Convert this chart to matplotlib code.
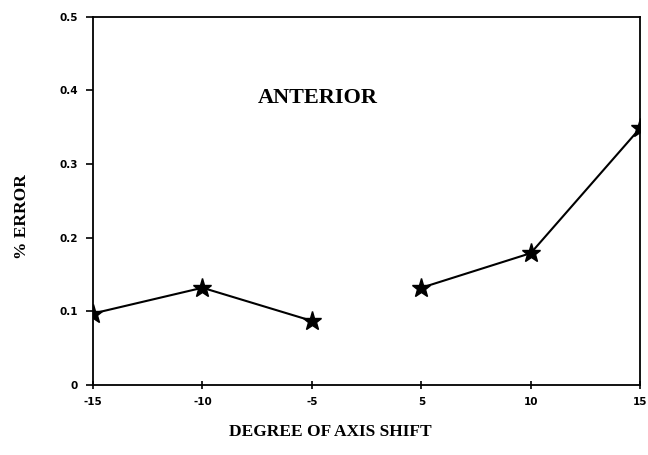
import matplotlib
matplotlib.use("Agg")
from matplotlib import pyplot as plt
import numpy as np

# data
shift_labels = ["-15", "-10", "-5", "5", "10", "15"]
left_err = [0.097, 0.132, 0.087]     # -15, -10, -5
right_err = [0.132, 0.179, 0.349]    # 5, 10, 15
y_ticks = [0, 0.1, 0.2, 0.3, 0.4, 0.5]
y_labels = ["0", "0.1", "0.2", "0.3", "0.4", "0.5"]

fig = plt.figure(figsize=(6.48, 4.55), dpi=100)
ax = fig.add_axes([0.1435, 0.154, 0.8445, 0.809])

pos = np.arange(len(shift_labels))
ax.plot(pos[:3], left_err, color="black", lw=1.5, marker="*", ms=14, mfc="black", mec="black")
ax.plot(pos[3:], right_err, color="black", lw=1.5, marker="*", ms=14, mfc="black", mec="black")

ax.set_xlim(0, 5)
ax.set_ylim(0, 0.5)
ax.set_xticks(pos)
ax.set_xticklabels(shift_labels)
ax.set_yticks(y_ticks)
ax.set_yticklabels(y_labels)
for s in ax.spines.values():
    s.set_linewidth(1.3)
ax.tick_params(axis="y", direction="out", length=5, width=1.2, labelsize=7.5, pad=6)
ax.tick_params(axis="x", direction="inout", length=6, width=1.2, labelsize=7.5, pad=6)
for t in ax.get_xticklabels() + ax.get_yticklabels():
    t.set_fontweight("bold")

serif = "Liberation Serif"
ax.text(0.41, 0.78, "ANTERIOR", transform=ax.transAxes, ha="center", va="center",
        family=serif, fontweight="bold", fontsize=16)
fig.text(0.034, 0.525, "% ERROR", rotation=90, ha="center", va="center",
         family=serif, fontweight="bold", fontsize=12.5)
fig.text(0.51, 0.05, "DEGREE OF AXIS SHIFT", ha="center", va="center",
         family=serif, fontweight="bold", fontsize=12.5)

fig.savefig("out.png", dpi=100)
